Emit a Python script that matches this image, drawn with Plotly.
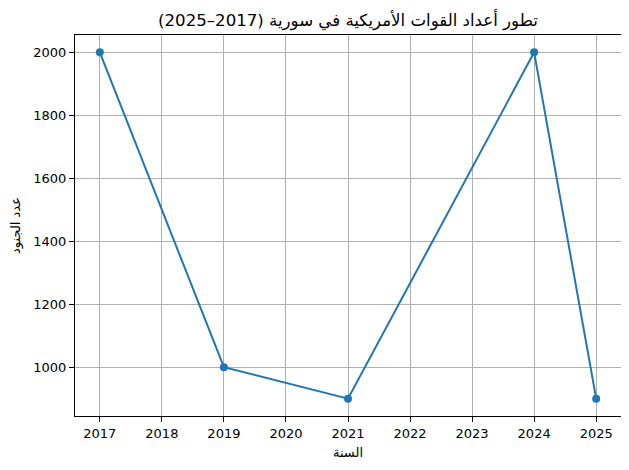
import plotly.graph_objects as go

years = [2017, 2019, 2021, 2024, 2025]
troops = [2000, 1000, 900, 2000, 900]
x_ticks = [2017, 2018, 2019, 2020, 2021, 2022, 2023, 2024, 2025]
y_ticks = [1000, 1200, 1400, 1600, 1800, 2000]

title_text = "تطور أعداد القوات الأمريكية في سورية (2017–2025)"
x_label = "السنة"
y_label = "عدد الجنود"

# the page body adds an 8px offset; compensate so the chart fills the 629x470 window
W, H = 621, 462

fig = go.Figure(go.Scatter(
    x=years, y=troops, mode="lines+markers",
    line=dict(color="#1f77b4", width=2),
    marker=dict(color="#1f77b4", size=8),
))

axis_common = dict(
    showline=True, linecolor="black", linewidth=1, mirror=True,
    ticks="outside", ticklen=5, tickcolor="black",
    showgrid=True, gridcolor="#b0b0b0", gridwidth=1,
    zeroline=False, automargin=False,
    tickfont=dict(family="DejaVu Sans", size=13, color="black"),
)

fig.update_layout(
    width=W, height=H,
    margin=dict(l=67, r=8, t=27, b=54),
    paper_bgcolor="white", plot_bgcolor="white",
    font=dict(family="DejaVu Sans", color="black"),
    showlegend=False,
    title=dict(text=title_text, x=340 / W, xanchor="center",
               y=1 - 12 / H, yanchor="middle", automargin=False,
               font=dict(family="DejaVu Sans", size=16.6, color="black")),
    xaxis=dict(range=[2016.6, 2025.4], tickvals=x_ticks,
               title=dict(text=x_label, font=dict(family="DejaVu Sans", size=13), standoff=8),
               **axis_common),
    yaxis=dict(range=[845, 2055], tickvals=y_ticks,
               title=dict(text=y_label, font=dict(family="DejaVu Sans", size=13), standoff=10),
               **axis_common),
)

fig.write_html("out.html")
